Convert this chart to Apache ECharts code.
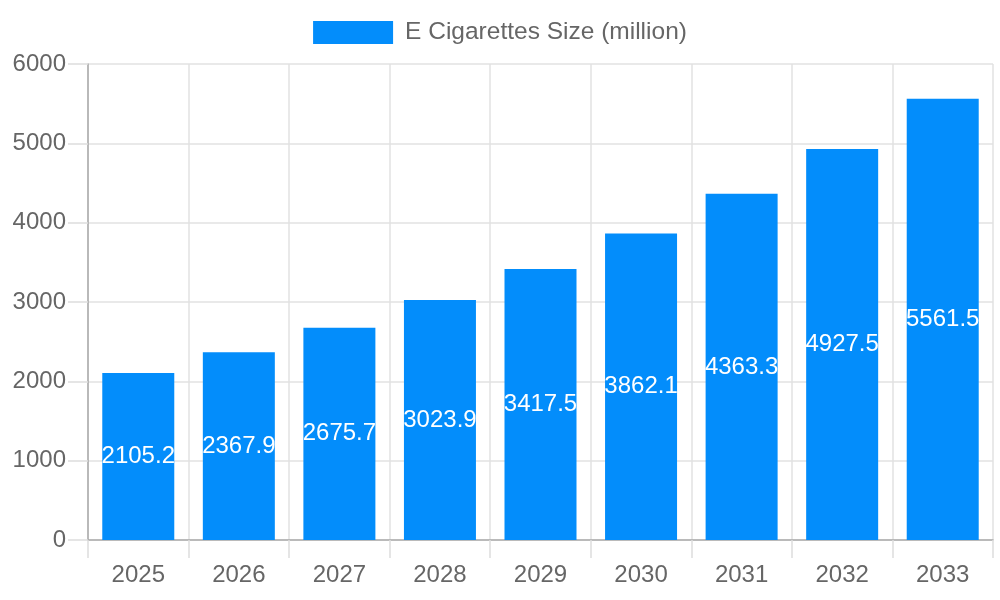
<!DOCTYPE html>
<html><head><meta charset="utf-8">
<script src="https://cdn.jsdelivr.net/npm/echarts@6/dist/echarts.min.js"></script>
<style>html,body{margin:0;padding:0;background:#fff}#c{width:1000px;height:600px}</style>
</head><body><div id="c"></div>
<script>
const categories = ['2025','2026','2027','2028','2029','2030','2031','2032','2033'];
const sizeValues = [2105.2, 2367.9, 2675.7, 3023.9, 3417.5, 3862.1, 4363.3, 4927.5, 5561.5];
const seriesName = 'E Cigarettes Size (million)';
const yTicks = { min: 0, max: 6000, interval: 1000 };

const chart = echarts.init(document.getElementById('c'));
const font = 'Liberation Sans, Arial, sans-serif';
chart.setOption({
  animation: false,
  textStyle: { fontFamily: font },
  legend: {
    top: 15, left: 'center',
    itemWidth: 80, itemHeight: 23, itemGap: 10,
    icon: 'rect',
    textStyle: { fontSize: 24.5, color: '#666', fontFamily: font, padding: [0,0,0,7] },
    data: [seriesName]
  },
  grid: { left: 88, right: 7, top: 64, bottom: 60, containLabel: false },
  xAxis: {
    type: 'category', data: categories,
    boundaryGap: true,
    axisLine: { show: true, lineStyle: { color: '#aaa', width: 1.5 } },
    axisTick: { show: true, length: 18, alignWithLabel: false, lineStyle: { color: '#ddd', width: 1.5 } },
    splitLine: { show: true, lineStyle: { color: '#e2e2e2', width: 1.5 } },
    axisLabel: { fontSize: 24, color: '#666', margin: 23, fontFamily: font }
  },
  yAxis: {
    type: 'value', min: yTicks.min, max: yTicks.max, interval: yTicks.interval,
    axisLine: { show: true, lineStyle: { color: '#aaa', width: 1.5 } },
    axisTick: { show: true, length: 20, lineStyle: { color: '#ddd', width: 1.5 } },
    splitLine: { show: true, lineStyle: { color: '#e2e2e2', width: 1.5 } },
    axisLabel: { fontSize: 24, color: '#666', margin: 22, fontFamily: font, formatter: v => String(v) }
  },
  series: [{
    name: seriesName, type: 'bar', data: sizeValues,
    barCategoryGap: '28.4%',
    itemStyle: { color: '#038dfb' },
    label: { show: true, position: 'inside', color: '#fff', fontSize: 24, fontFamily: font }
  }]
});
</script></body></html>
